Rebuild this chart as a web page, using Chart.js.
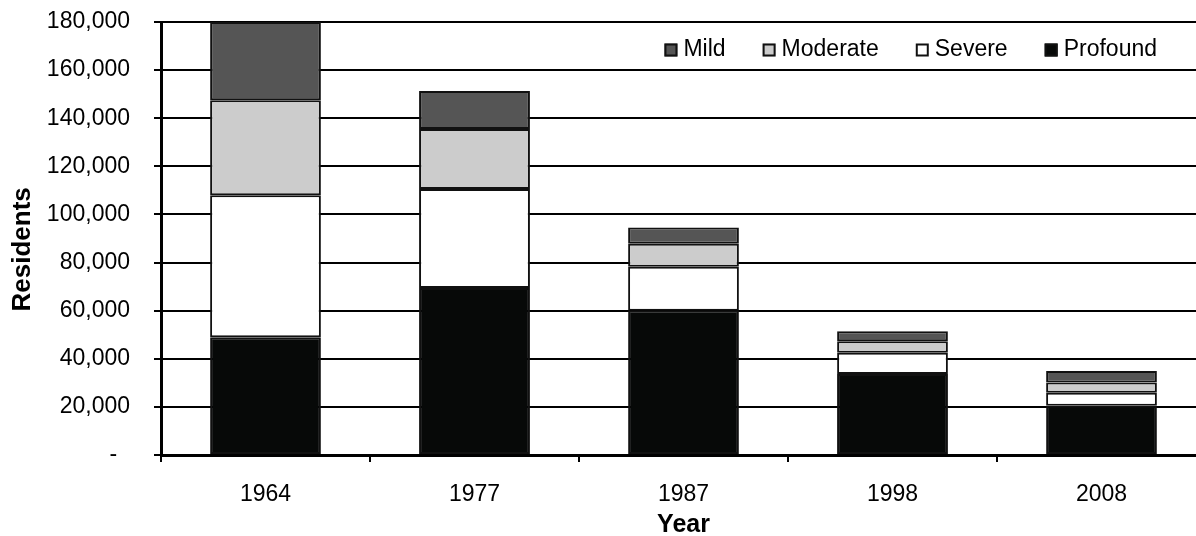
<!DOCTYPE html>
<html>
<head>
<meta charset="utf-8">
<script src="https://cdn.jsdelivr.net/npm/chart.js@4.4.1/dist/chart.umd.min.js"></script>
<style>
  html, body { margin: 0; padding: 0; background: #fff; overflow: hidden; }
  #wrap { width: 1216px; height: 536px; }
</style>
</head>
<body>
<div id="wrap"><canvas id="chart" width="1216" height="536"></canvas></div>
<script>
// data
const years = ['1964', '1977', '1987', '1998', '2008'];
const profound = [49000, 69400, 60000, 33700, 20500];
const severe   = [59000, 41200, 18300, 8800, 5400];
const moderate = [39500, 24900, 9500, 4800, 4200];
const mild     = [32500, 15800, 6800, 4100, 4800];
const yTicks = [0, 20000, 40000, 60000, 80000, 100000, 120000, 140000, 160000, 180000];

const FONT = 'Arial, "Liberation Sans", sans-serif';
const edge = '#111';

function ds(label, data, color){
  return {
    label, data,
    backgroundColor: color,
    borderColor: edge,
    borderWidth: 2,
    borderSkipped: false,
    barPercentage: 0.53,
    categoryPercentage: 1.0
  };
}

// legend drawn inside the plot, top right (Mild first like the original)
const insideLegend = {
  id: 'insideLegend',
  afterDraw(chart){
    const ctx = chart.ctx;
    const area = chart.chartArea;
    const items = chart.data.datasets.slice().reverse();
    ctx.save();
    ctx.font = '23px ' + FONT;
    ctx.textBaseline = 'middle';
    const box = 13, gapBox = 6, gapItem = 37;
    let total = 0;
    items.forEach((it, i) => {
      total += box + gapBox + ctx.measureText(it.label).width;
      if(i < items.length - 1) total += gapItem;
    });
    let x = area.right - 49 - total;
    const y = area.top + 28;
    items.forEach(it => {
      ctx.fillStyle = it.backgroundColor;
      ctx.fillRect(x, y - box/2, box, box);
      ctx.lineWidth = 2;
      ctx.strokeStyle = edge;
      ctx.strokeRect(x + 1, y - box/2 + 1, box - 2, box - 2);
      x += box + gapBox;
      ctx.fillStyle = '#000';
      ctx.fillText(it.label, x, y);
      x += ctx.measureText(it.label).width + gapItem;
    });
    ctx.restore();
  }
};

const ctx = document.getElementById('chart').getContext('2d');
const chart = new Chart(ctx, {
  type: 'bar',
  data: {
    labels: years,
    datasets: [
      ds('Profound', profound, '#070908'),
      ds('Severe', severe, '#ffffff'),
      ds('Moderate', moderate, '#cccccc'),
      ds('Mild', mild, '#555555')
    ]
  },
  options: {
    responsive: false,
    animation: false,
    layout: { padding: { top: 22, right: 10, bottom: 0, left: 0 } },
    plugins: {
      legend: { display: false },
      tooltip: { enabled: false }
    },
    scales: {
      x: {
        stacked: true,
        afterFit: s => { s.height = 81; },
        grid: { offset: true, drawOnChartArea: false, drawTicks: true, tickLength: 7, color: '#000', lineWidth: 2 },
        border: { color: '#000', width: 3 },
        ticks: { color: '#000', font: { family: FONT, size: 23 }, padding: 19 },
        title: { display: true, text: 'Year', color: '#000', font: { family: FONT, size: 25, weight: 'bold', lineHeight: 0.9 }, padding: { top: 0, bottom: 0 } }
      },
      y: {
        stacked: true,
        min: 0,
        max: 180000,
        afterFit: s => { s.width = 161; s.paddingTop = 0; s.paddingBottom = 0; },
        afterBuildTicks: s => { s.ticks = yTicks.map(v => ({ value: v })); },
        grid: { color: '#000', lineWidth: 2, drawTicks: true, tickLength: 7 },
        border: { color: '#000', width: 3 },
        ticks: {
          color: '#000',
          font: { family: FONT, size: 23 },
          padding: 24,
          callback: v => v === 0 ? '-  ' : v.toLocaleString('en-US')
        },
        title: { display: true, text: 'Residents   ', color: '#000', font: { family: FONT, size: 26, weight: 'bold', lineHeight: 1 }, padding: { top: 10, bottom: 0 } }
      }
    }
  },
  plugins: [insideLegend]
});
</script>
</body>
</html>
